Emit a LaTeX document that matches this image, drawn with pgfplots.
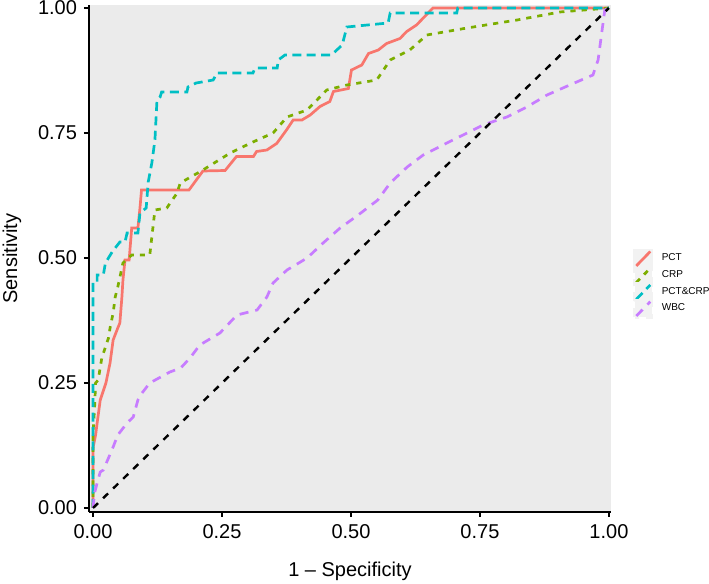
\documentclass[border=0pt]{standalone}
\usepackage{pgfplots}
\pgfplotsset{compat=1.18}
\usepackage{fontspec}
\setmainfont{Liberation Sans}
\definecolor{cPCT}{HTML}{F8766D}
\definecolor{cCRP}{HTML}{7CAE00}
\definecolor{cPC}{HTML}{00BFC4}
\definecolor{cWBC}{HTML}{C77CFF}
\definecolor{panel}{HTML}{EBEBEB}
\definecolor{keybg}{HTML}{F2F2F2}
\begin{document}
\begin{tikzpicture}
\useasboundingbox (-44.5pt,-36pt) rectangle (310pt,256pt);
\begin{axis}[
  at={(0pt,0pt)}, anchor=south west,
  scale only axis, width=261pt, height=253.5pt,
  xmin=-0.0078, xmax=1.004, ymin=-0.008, ymax=1.006,
  axis x line*=bottom, axis y line*=left,
  axis line style={black, line width=1.2pt},
  axis background/.style={fill=panel},
  tick align=outside, major tick length=2.5pt,
  tick style={black, line width=1pt},
  xtick={0,0.25,0.5,0.75,1}, xticklabels={0.00,0.25,0.50,0.75,1.00},
  ytick={0,0.25,0.5,0.75,1}, yticklabels={0.00,0.25,0.50,0.75,1.00},
  ticklabel style={font=\fontsize{10}{12}\selectfont},
  /pgf/number format/assume math mode=true,
  xlabel={1 – Specificity}, ylabel={Sensitivity},
  label style={font=\fontsize{10}{12}\selectfont},
  every axis x label/.style={at={(axis description cs:0.5,-0.118)}, anchor=center},
  every axis y label/.style={at={(axis description cs:-0.1475,0.5)}, anchor=center, rotate=90},
  legend style={at={(axis description cs:1.042,0.52)}, anchor=north west, draw=none, fill=none,
    font=\fontsize{5}{6}\selectfont, row sep=-1.6pt, inner sep=0pt,
    nodes={inner sep=0.8pt, anchor=west},
    /tikz/every odd column/.append style={column sep=3.5pt}},
  legend cell align=left,
  legend image code/.code={
    \fill[keybg] (0pt,-4.3pt) rectangle (8.6pt,4.3pt);
    \draw[#1] (0.8pt,-3.6pt) -- (7.8pt,3.6pt);
  },
  every axis plot/.append style={line width=1.35pt},
]
\addplot[cPCT, solid] coordinates {
(0,0)(0,0.12)(0.005,0.146)(0.008,0.17)(0.014,0.216)(0.025,0.25)(0.033,0.29)(0.039,0.336)(0.048,0.36)(0.052,0.37)(0.056,0.422)(0.058,0.456)(0.062,0.496)(0.07,0.496)(0.075,0.56)(0.087,0.56)(0.091,0.60)(0.094,0.636)(0.186,0.636)(0.213,0.674)(0.256,0.675)(0.278,0.703)(0.311,0.703)(0.317,0.713)(0.337,0.716)(0.356,0.729)(0.375,0.756)(0.388,0.776)(0.405,0.776)(0.421,0.786)(0.440,0.803)(0.459,0.813)(0.466,0.833)(0.495,0.839)(0.501,0.876)(0.521,0.886)(0.534,0.909)(0.553,0.916)(0.569,0.929)(0.595,0.939)(0.608,0.953)(0.627,0.966)(0.659,1.0)(1,1)
};
\addlegendentry{PCT}
\addplot[cCRP, dash pattern=on 2.6pt off 3pt] coordinates {
(0,0)(0,0.15)(0.003,0.2)(0.005,0.25)(0.01,0.256)(0.017,0.30)(0.03,0.34)(0.033,0.36)(0.039,0.39)(0.043,0.422)(0.048,0.442)(0.058,0.49)(0.075,0.506)(0.11,0.506)(0.12,0.596)(0.143,0.60)(0.163,0.63)(0.169,0.65)(0.213,0.676)(0.266,0.71)(0.31,0.732)(0.349,0.75)(0.376,0.782)(0.415,0.796)(0.453,0.836)(0.492,0.846)(0.55,0.856)(0.576,0.896)(0.614,0.916)(0.647,0.946)(0.725,0.96)(0.822,0.976)(0.905,0.992)(1,1)
};
\addlegendentry{CRP}
\addplot[cPC, dash pattern=on 4.5pt off 2.7pt] coordinates {
(0,0)(0,0.452)(0.008,0.452)(0.008,0.466)(0.02,0.466)(0.024,0.49)(0.037,0.512)(0.052,0.532)(0.062,0.532)(0.066,0.55)(0.087,0.55)(0.091,0.59)(0.103,0.60)(0.107,0.652)(0.114,0.69)(0.12,0.736)(0.124,0.816)(0.13,0.822)(0.133,0.832)(0.182,0.832)(0.184,0.842)(0.2,0.85)(0.233,0.856)(0.24,0.87)(0.31,0.87)(0.314,0.88)(0.357,0.88)(0.359,0.896)(0.372,0.906)(0.462,0.906)(0.483,0.926)(0.492,0.962)(0.572,0.97)(0.576,0.99)(0.705,0.99)(0.707,1)(1,1)
};
\addlegendentry{PCT\&CRP}
\addplot[cWBC, dash pattern=on 4.5pt off 3.5pt] coordinates {
(0,0)(0.003,0.03)(0.008,0.05)(0.014,0.072)(0.02,0.076)(0.03,0.1)(0.039,0.122)(0.048,0.146)(0.066,0.17)(0.078,0.182)(0.087,0.216)(0.095,0.23)(0.11,0.25)(0.149,0.272)(0.17,0.28)(0.188,0.30)(0.207,0.326)(0.246,0.35)(0.279,0.386)(0.318,0.396)(0.337,0.422)(0.349,0.45)(0.376,0.476)(0.415,0.50)(0.446,0.53)(0.479,0.56)(0.514,0.586)(0.552,0.616)(0.576,0.65)(0.609,0.682)(0.64,0.706)(0.686,0.73)(0.725,0.75)(0.756,0.766)(0.802,0.782)(0.841,0.802)(0.88,0.826)(0.924,0.846)(0.969,0.866)(0.979,0.896)(0.986,0.95)(0.992,0.996)(1,1)
};
\addlegendentry{WBC}
\addplot[black, line width=1.2pt, dash pattern=on 3.5pt off 3.5pt, forget plot] coordinates {(0,0)(1,1)};
\end{axis}
\end{tikzpicture}
\end{document}
